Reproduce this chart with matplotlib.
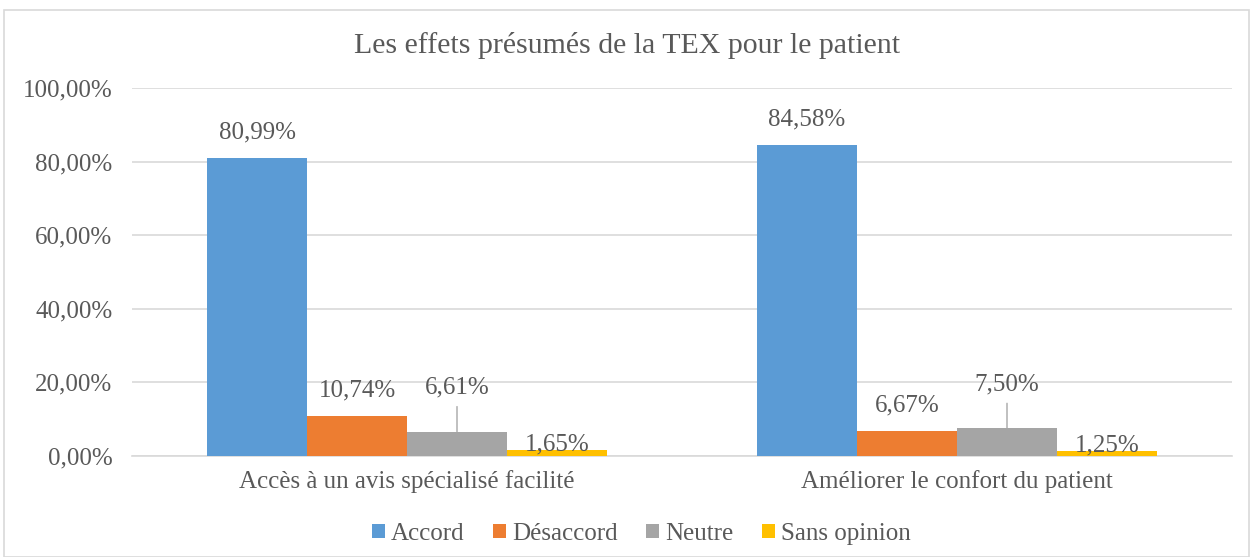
import numpy as np
import matplotlib.pyplot as plt
from matplotlib.patches import Rectangle

plt.rcParams['font.family'] = ['Liberation Serif', 'DejaVu Serif']

categories = ["Accès à un avis spécialisé facilité", "Améliorer le confort du patient"]
series = ["Accord", "Désaccord", "Neutre", "Sans opinion"]
values = {
    "Accord": [80.99, 84.58],
    "Désaccord": [10.74, 6.67],
    "Neutre": [6.61, 7.50],
    "Sans opinion": [1.65, 1.25],
}
labels = {
    "Accord": ["80,99%", "84,58%"],
    "Désaccord": ["10,74%", "6,67%"],
    "Neutre": ["6,61%", "7,50%"],
    "Sans opinion": ["1,65%", "1,25%"],
}
colors = ["#5B9BD5", "#ED7D31", "#A5A5A5", "#FFC000"]
text_col = "#595959"
fs = 18

fig = plt.figure(figsize=(12.5, 5.57), dpi=100)
ax = fig.add_axes([0.1056, 0.1813, 0.88, 0.6607])

# border round the chart
fig.patches.append(Rectangle((0.003, 0.0), 0.996, 0.982, transform=fig.transFigure,
                             fill=False, edgecolor="#D9D9D9", linewidth=1.2))

x = np.arange(len(categories)) + 0.5
w = 100 / 550
offsets = [-1.5, -0.5, 0.5, 1.5]

for i, s in enumerate(series):
    xs = x + offsets[i] * w
    ax.bar(xs, values[s], width=w, color=colors[i], label=s, zorder=3)
    for j, v in enumerate(values[s]):
        if s == "Neutre":
            # raised label with leader line
            ax.annotate(labels[s][j], xy=(xs[j], v), xytext=(0, 32), textcoords="offset points",
                        ha="center", va="center", fontsize=fs, color=text_col,
                        arrowprops=dict(arrowstyle="-", color="#A6A6A6", lw=1,
                                        shrinkA=4, shrinkB=0))
        elif s == "Sans opinion":
            ax.annotate(labels[s][j], xy=(xs[j], v), xytext=(0, 4), textcoords="offset points",
                        ha="center", va="center", fontsize=fs, color=text_col)
        else:
            ax.annotate(labels[s][j], xy=(xs[j], v), xytext=(0, 18.5), textcoords="offset points",
                        ha="center", va="center", fontsize=fs, color=text_col)

ax.set_xlim(0, 2)
ax.set_ylim(0, 100)
ax.set_yticks(np.arange(0, 101, 20))
ax.set_yticklabels(["%d,00%%" % t for t in range(0, 101, 20)])
ax.set_xticks(x)
ax.set_xticklabels(categories)
ax.tick_params(axis="both", length=0, labelsize=fs, labelcolor=text_col)
ax.tick_params(axis="y", pad=14)
ax.tick_params(axis="x", pad=10)
ax.grid(axis="y", color="#D9D9D9", linewidth=1.2, zorder=0)
for sp in ["top", "right", "left"]:
    ax.spines[sp].set_visible(False)
ax.spines["bottom"].set_color("#D9D9D9")
ax.spines["bottom"].set_linewidth(1.2)

fig.text(0.502, 0.919, "Les effets présumés de la TEX pour le patient", ha="center", va="center",
         fontsize=21.5, color=text_col)

fig.legend(loc="center", bbox_to_anchor=(0.513, 0.041), ncol=4, frameon=False, fontsize=fs,
           handlelength=0.5, handleheight=0.5, handletextpad=0.25, columnspacing=1.15,
           labelcolor=text_col)

fig.savefig("out.png", dpi=100)
